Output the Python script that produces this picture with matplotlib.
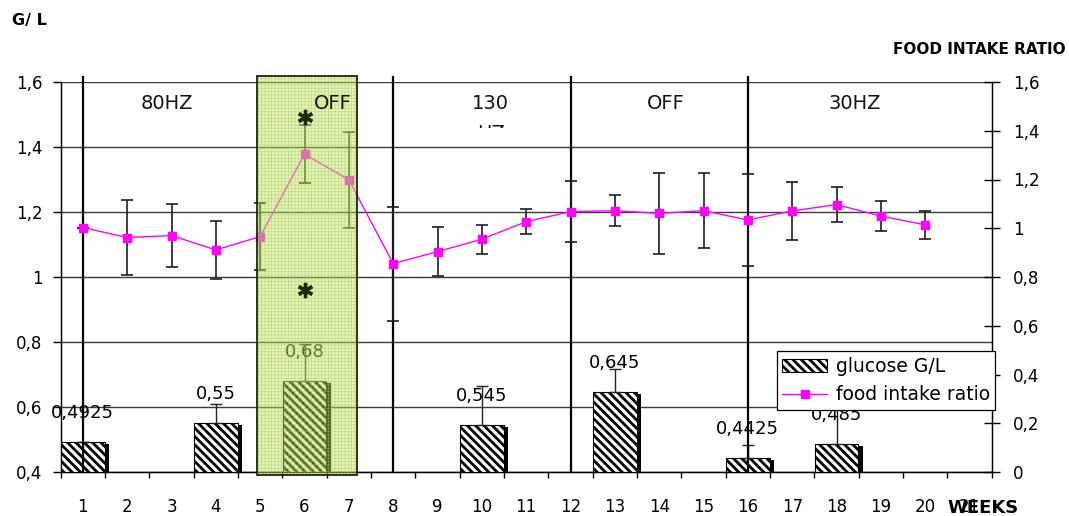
import matplotlib
matplotlib.use("Agg")
import matplotlib.pyplot as plt
from matplotlib.patches import Rectangle
from matplotlib.transforms import Bbox, TransformedBbox
import numpy as np

# ---------------- data ----------------
weeks = list(range(1, 22))
week_labels = [str(w) for w in weeks]

glucose_weeks = [1, 4, 6, 10, 13, 16, 18]
glucose = [0.4925, 0.55, 0.68, 0.545, 0.645, 0.4425, 0.485]
glucose_err = [0.0, 0.06, 0.115, 0.12, 0.072, 0.04, 0.12]

food_weeks = list(range(1, 21))
food = [1.003, 0.962, 0.970, 0.911, 0.966, 1.304, 1.199, 0.855, 0.904, 0.955,
        1.027, 1.068, 1.072, 1.061, 1.072, 1.034, 1.071, 1.097, 1.050, 1.014]
food_err = [0.0, 0.154, 0.128, 0.12, 0.138, 0.12, 0.196, 0.234, 0.10, 0.06,
            0.05, 0.125, 0.063, 0.165, 0.155, 0.19, 0.12, 0.073, 0.06, 0.058]

phase_labels = ["80HZ", "OFF", "130", "OFF", "30HZ"]
phase_pos = [2.89, 6.64, 10.2, 14.14, 18.4]
divider_weeks = [1, 8, 12, 16]
off_span = (4.92, 7.18)
star_week = 6

left_ticks = [0.4, 0.6, 0.8, 1.0, 1.2, 1.4, 1.6]
right_ticks = [0, 0.2, 0.4, 0.6, 0.8, 1.0, 1.2, 1.4, 1.6]


def comma(v):
    return f"{round(v, 4):g}".replace(".", ",")


def set_hlw(patch, lw):
    if hasattr(patch, "set_hatch_linewidth"):
        patch.set_hatch_linewidth(lw)


plt.rcParams["font.family"] = ["DejaVu Sans"]
W, H = 1069, 516
fig = plt.figure(figsize=(W / 100, H / 100), dpi=100)
ax = fig.add_axes([60.7 / W, 44 / H, 931 / W, 390 / H])
ax2 = ax.twinx()

# ---------------- left axis: bars ----------------
ax.set_xlim(0.5, 21.5)
ax.set_ylim(0.4, 1.6)
ax.set_axisbelow(True)
ax.yaxis.grid(True, color="#3a3a3a", lw=1.0)

plt.rcParams["hatch.linewidth"] = 2.0
gx = np.array(glucose_weeks, dtype=float)
gv = np.array(glucose)
ax.bar(gx + 0.1, gv - 0.4 - 0.006, width=0.98, bottom=0.4, color="black",
       zorder=2, linewidth=0)
bars = ax.bar(gx, gv - 0.4, width=0.98, bottom=0.4, facecolor="white",
              edgecolor="black", hatch="\\\\\\\\", linewidth=0.8, zorder=3,
              label="glucose G/L")
for b in bars:
    set_hlw(b, 2.0)
ax.errorbar(gx, gv, yerr=[np.zeros(len(gv)), glucose_err], fmt="none",
            ecolor="#222222", elinewidth=1.0, capsize=4, capthick=1.0, zorder=3.5)
for x, v in zip(glucose_weeks, glucose):
    ax.annotate(comma(v), (x, v), xytext=(0, 24), textcoords="offset pixels",
                ha="center", va="baseline", fontsize=13, zorder=6)

for d in divider_weeks:
    ax.plot([d, d], [0.4, 1.615], color="black", lw=1.6, zorder=4, clip_on=False)

ax.set_yticks(left_ticks)
ax.set_yticklabels([comma(v) for v in left_ticks])
ax.tick_params(axis="y", direction="out", length=5.8, width=1, pad=7.2, labelsize=12)
ax.set_xticks(weeks)
ax.set_xticklabels(week_labels)
ax.set_xticks(np.arange(0.5, 22, 1.0), minor=True)
ax.tick_params(axis="x", which="major", length=0, pad=18.5, labelsize=12)
ax.tick_params(axis="x", which="minor", length=4.3, width=1, direction="out")

ax.spines["top"].set_visible(False)
ax2.spines["top"].set_visible(False)
for s in ["left", "bottom"]:
    ax.spines[s].set_color("black")
    ax.spines[s].set_linewidth(1)
ax2.spines["right"].set_color("black")
ax2.spines["right"].set_linewidth(1)

# ---------------- right axis: food intake ----------------
ax2.set_ylim(0, 1.6)
ax2.set_yticks(right_ticks)
ax2.set_yticklabels([comma(v) for v in right_ticks])
ax2.tick_params(axis="y", direction="inout", length=12.2, width=1, pad=9, labelsize=12)

ax2.errorbar(food_weeks, food, yerr=food_err, fmt="none", ecolor="#1e1e1e",
             elinewidth=1.2, capsize=4, capthick=1.2, zorder=3)
line, = ax2.plot(food_weeks, food, color="#ff00ff", lw=1.0, marker="s",
                 markersize=6.3, markerfacecolor="#ff00ff",
                 markeredgecolor="#ff00ff", zorder=4, label="food intake ratio")

# OFF shaded band (overlay)
tr = ax2.get_xaxis_transform()
x0, x1 = off_span
ax2.add_patch(Rectangle((x0, -0.008), x1 - x0, 1.024, transform=tr,
                        facecolor="#c4e46a", alpha=0.42, linewidth=0,
                        zorder=5, clip_on=False))
plt.rcParams["hatch.linewidth"] = 0.5
grid_patch = Rectangle((x0, -0.008), x1 - x0, 1.024, transform=tr,
                       facecolor="none", edgecolor=(0.62, 0.80, 0.25, 0.55),
                       hatch="+++++", linewidth=0, zorder=5.1, clip_on=False)
set_hlw(grid_patch, 0.5)
ax2.add_patch(grid_patch)
ax2.add_patch(Rectangle((x0, -0.008), x1 - x0, 1.024, transform=tr,
                        facecolor="none", edgecolor="#1c2410", linewidth=1.3,
                        zorder=5.2, clip_on=False))
plt.rcParams["hatch.linewidth"] = 2.0

# phase labels
for lbl, px in zip(phase_labels, phase_pos):
    ax2.text(px, 0.946, lbl, transform=tr, ha="center", va="center",
             fontsize=14, color="#111111", zorder=6)
hz = ax2.text(phase_pos[2], 0.855, "HZ", transform=tr, ha="center",
              va="baseline", fontsize=14, color="#111111", zorder=6)
hz.set_clip_box(TransformedBbox(Bbox([[0, 0.883], [1, 1.3]]), ax2.transAxes))
hz.set_clip_on(True)

# significance asterisks
ax2.plot([star_week, star_week], [0.911, 0.467], transform=tr, linestyle="none",
         marker=(6, 2, 0), markersize=11, markeredgewidth=2.4,
         color="#1c2a05", zorder=6, clip_on=False)

leg = ax2.legend([bars, line], ["glucose G/L", "food intake ratio"],
                 loc="upper left", bbox_to_anchor=(0.769, 0.310),
                 borderaxespad=0, frameon=True, fancybox=False,
                 edgecolor="black", framealpha=1, fontsize=13.5,
                 handlelength=2.4, handleheight=0.7, handletextpad=0.45,
                 borderpad=0.3, labelspacing=0.5)
leg.get_frame().set_linewidth(0.9)
leg.set_zorder(10)

# axis titles
fig.text(12 / W, 1 - 21 / H, "G/ L", fontsize=11.5, fontweight="bold",
         ha="left", va="center")
fig.text(1066 / W, 1 - 50 / H, "FOOD INTAKE RATIO", fontsize=11,
         fontweight="bold", ha="right", va="center")
fig.text(983 / W, 8 / H, "WEEKS", fontsize=13, fontweight="bold",
         ha="center", va="center")

fig.savefig("out.png", dpi=100)
